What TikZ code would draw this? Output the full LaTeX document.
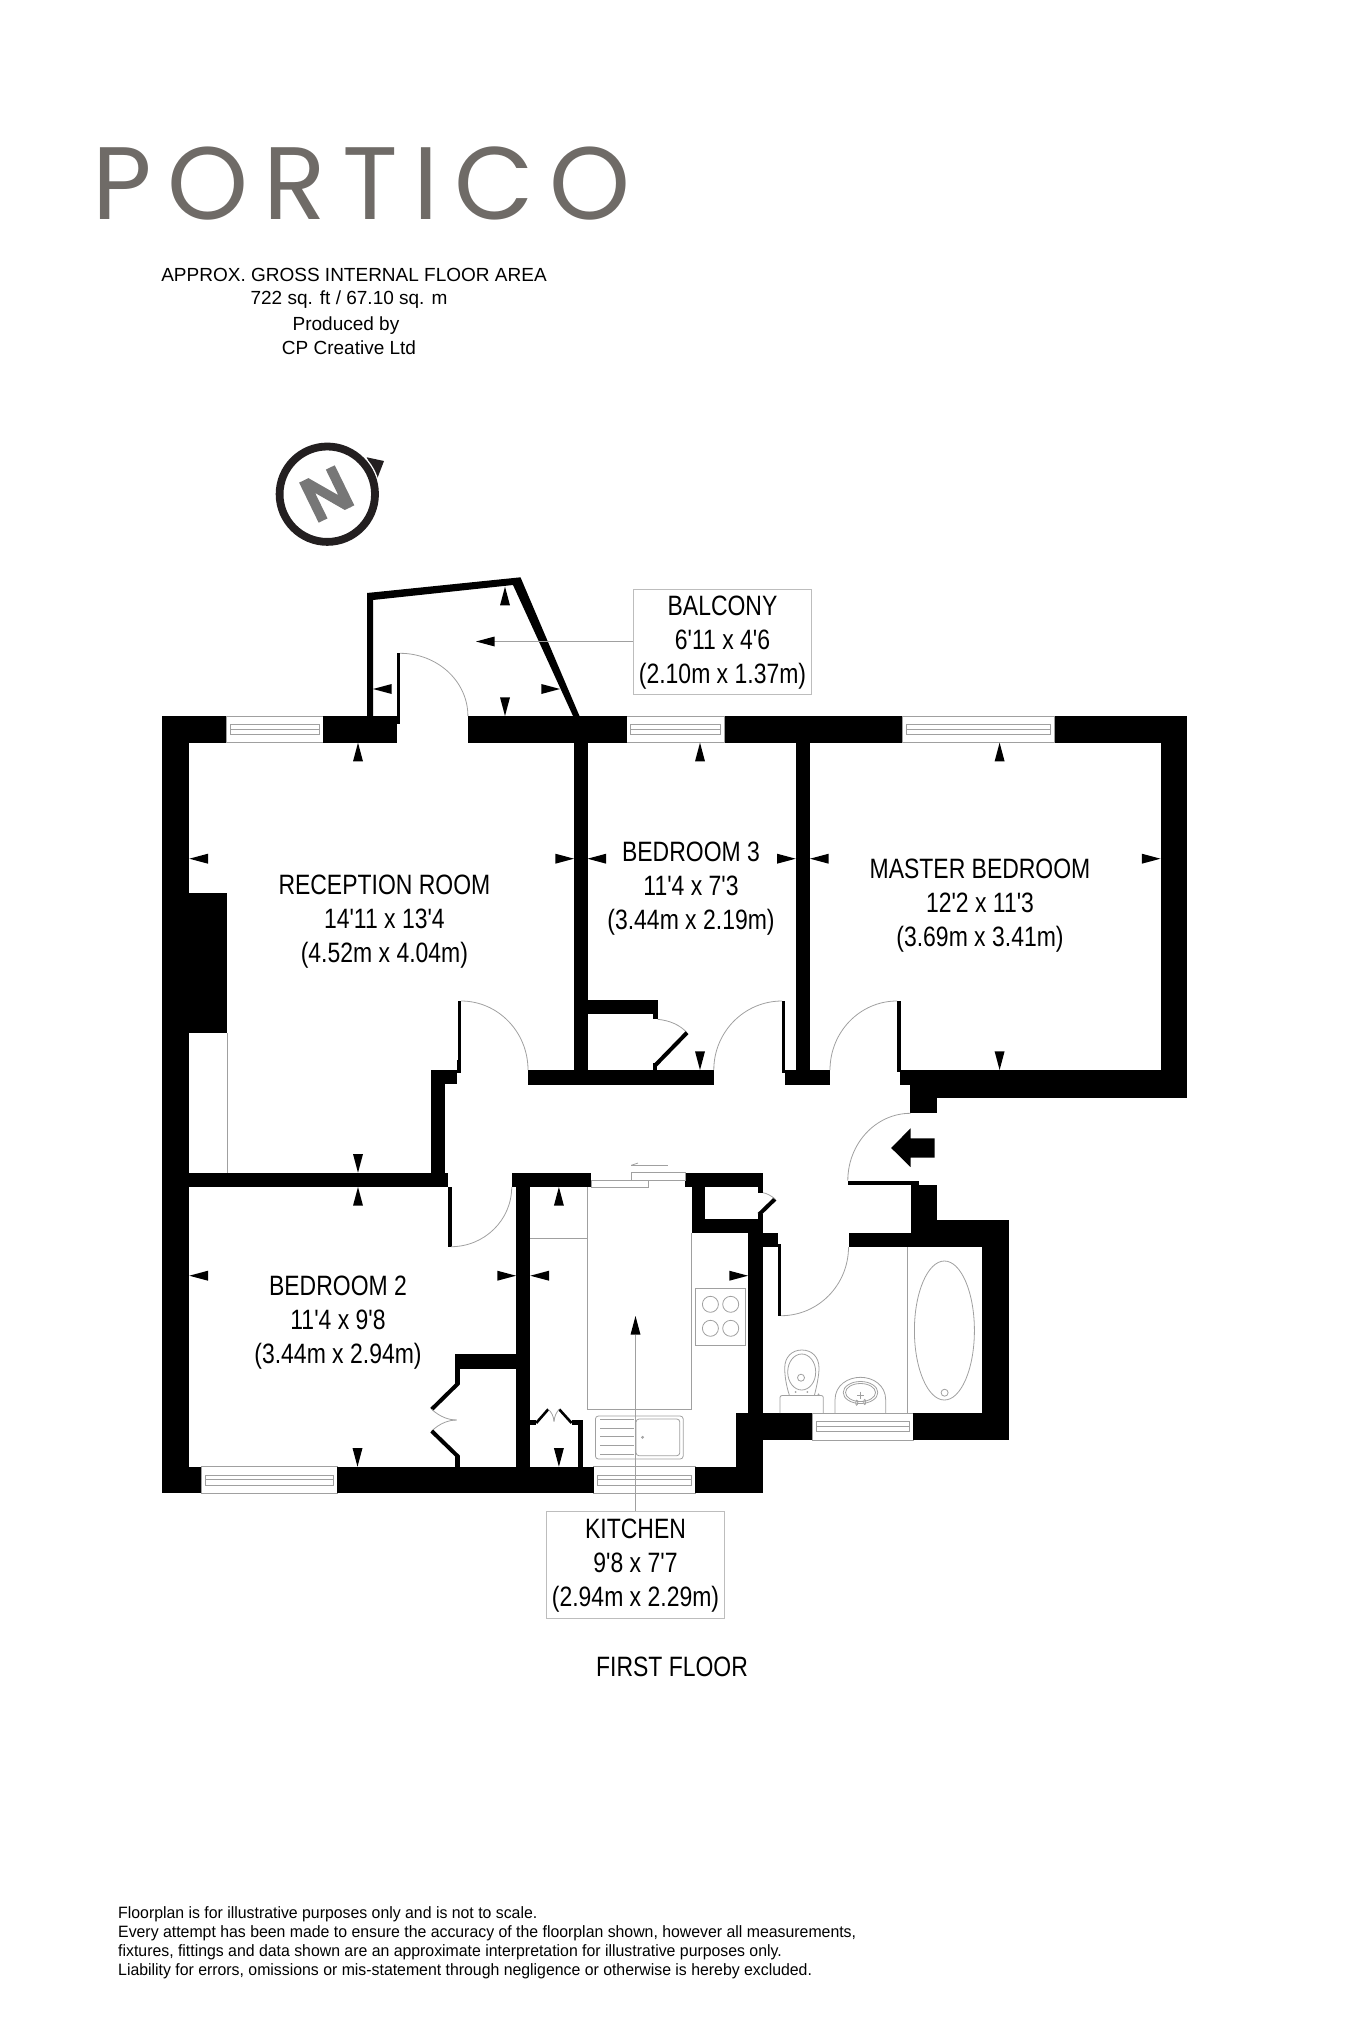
\documentclass[tikz,border=0pt]{standalone}
\usepackage{fontspec}
\usetikzlibrary{calc}
\setmainfont{Liberation Sans}
\newfontfamily\narrowf[FakeStretch=0.82]{Liberation Sans}
\newfontfamily\footf[FakeStretch=0.966]{Liberation Sans}
\newfontfamily\titlef[LetterSpace=15.1]{Poppins}
\newfontfamily\northf[FakeBold=8,FakeStretch=1.08]{Liberation Sans}
\definecolor{gry}{HTML}{A0A0A0}
\definecolor{logo}{HTML}{6F6B67}
\definecolor{ring}{HTML}{231F20}
\definecolor{nort}{HTML}{777777}
\newcommand\arU[2]{\fill (#1,#2) -- ++(5,18.7) -- ++(-10,0) -- cycle;}
\newcommand\arD[2]{\fill (#1,#2) -- ++(5,-18.7) -- ++(-10,0) -- cycle;}
\newcommand\arL[2]{\fill (#1,#2) -- ++(18.7,5) -- ++(0,-10) -- cycle;}
\newcommand\arR[2]{\fill (#1,#2) -- ++(-18.7,5) -- ++(0,-10) -- cycle;}
\newcommand\wl[4]{\fill (#1,#2) rectangle (#3,#4);}
\newcommand\doorarc[6]{\draw[thinl] (#1,#2) .. controls ($(#1,#2)+.5523*(#3,#4)-.5523*(#5,#6)$) and ($(#3,#4)+.5523*(#1,#2)-.5523*(#5,#6)$) .. (#3,#4);}
% window: x0, x1, y top
\newcommand\windowh[3]{%
  \draw[thinl] (#1,#3) rectangle (#2,#3+26.7);
  \draw[thinl] (#1+4,#3+8.3) rectangle (#2-4,#3+18.3);
  \draw[thinl] (#1+4,#3+13) -- (#2-4,#3+13);}
\tikzset{
  thinl/.style={draw=gry,line width=0.8pt},
  roomlabel/.style={font=\narrowf\fontsize{28}{34.2}\selectfont,align=center,inner sep=0pt},
  headtext/.style={font=\fontsize{19}{23}\selectfont,inner sep=0pt},
  foottext/.style={font=\footf\fontsize{16.4}{19}\selectfont,inner sep=0pt,anchor=west},
  leaf/.style={line width=4pt,line cap=butt,black}
}
\begin{document}
\begin{tikzpicture}[x=1pt,y=-1pt]
\useasboundingbox (0,0) rectangle (1350,2025);
% Logo and header
\node[inner sep=0pt,anchor=west,text=logo,font=\titlef\fontsize{103}{106}\selectfont] (logo) at (92,184) {PORTICO};
\node[headtext] (h1) at (354,275) {APPROX. GROSS INTERNAL FLOOR AREA};
\node[headtext] (h2) at (349,300) {722 sq. ft / 67.10 sq. m};
\node[headtext] (h3) at (346,326) {Produced by};
\node[headtext] (h4) at (349,348) {CP Creative Ltd};
% Compass
\fill[ring] (366.7,457.3) -- (384,461) -- (376.7,480) -- cycle;
\draw[white,line width=1.6pt] (327.3,494.2) circle [radius=52.2];
\draw[ring,line width=7.8pt] (327.3,494.2) circle [radius=47.7];
\node[text=nort,font=\northf\fontsize{58}{58}\selectfont,rotate=26,inner sep=0pt] (north) at (326.7,494) {\special{pdf:code q 0.467 0.467 0.467 RG}N\special{pdf:code Q}};
% Windows
\windowh{226}{323.2}{716}
\windowh{626.8}{724.5}{716}
\windowh{902.4}{1054.5}{716}
\windowh{201.3}{337.3}{1466.7}
\windowh{593.7}{695}{1466.7}
\windowh{812}{913.2}{1413.3}
% Outer walls
\wl{162.3}{716}{226}{742.7}
\wl{323.2}{716}{397}{742.7}
\wl{397}{716}{400}{724}
\wl{467.9}{716}{626.8}{742.7}
\wl{724.5}{716}{902.4}{742.7}
\wl{1054.5}{716}{1187}{742.7}
\wl{162.3}{716}{189.3}{1493.3}
\wl{162.3}{1466.7}{201.3}{1493.3}
\wl{1160.5}{716}{1187}{1097.6}
\wl{337.3}{1466.7}{593.7}{1493.3}
\wl{695}{1466.7}{763}{1493.3}
% chimney
\wl{189.3}{892.7}{227}{1033.3}
\draw[thinl] (227,1033.3) -- (227,1172.7);
% Balcony
\fill (367,716) -- (367,593) -- (520.5,577.3) -- (579.5,716) -- (573,716) -- (513,585) -- (373,600) -- (373,716) -- cycle;
\wl{397}{653.3}{400}{724}
\doorarc{400}{653.3}{467.9}{716}{400}{716}
% Partitions
\wl{574}{742}{587.5}{1070}
\wl{795.7}{742}{810}{1085}
\wl{785}{1070}{830}{1085}
\wl{528}{1070}{713.8}{1085}
\wl{900.4}{1070}{1187}{1085}
\wl{910.3}{1085}{1187}{1097.6}
\wl{910.3}{1097}{937.3}{1113.3}
% Reception wall and hall
\wl{430.7}{1070}{456.7}{1084}
\wl{456.7}{1060}{460.7}{1072.7}
\wl{430.7}{1084}{445}{1173}
\wl{189.3}{1172.7}{448}{1187}
\wl{458}{1001}{461}{1072}
\doorarc{461}{1001}{528}{1070}{461}{1070}
% B3 closet
\wl{587.5}{1000}{657.6}{1014}
\wl{653}{1014}{657.6}{1019.3}
\draw[thinl] (657.6,1019.3) .. controls (670,1020.5) and (680,1025) .. (687,1032.7);
\draw[leaf] (687,1032.7) -- (655.5,1065);
\wl{653}{1063}{657}{1070}
% B3 door
\wl{781.8}{1001}{785}{1072.7}
\doorarc{782}{1001}{713.8}{1070}{782}{1070}
% Master door
\wl{897}{1001}{901}{1072}
\doorarc{897}{1001}{830}{1070}{897}{1070}
% Bedroom 2 door
\wl{448}{1187}{451.7}{1246.7}
\doorarc{451}{1246.7}{511.7}{1187}{451}{1187}
% Kitchen walls
\wl{511.5}{1172.7}{591.3}{1187}
\wl{516}{1187}{530.3}{1467}
\wl{685}{1172.7}{762.7}{1187}
\wl{691.5}{1187}{705.2}{1232.7}
\wl{691.5}{1218.7}{763}{1232.7}
\wl{757.6}{1187}{763}{1192.7}
\wl{757.6}{1214}{763}{1219}
\draw[leaf] (759,1214.5) -- (775,1199);
\draw[thinl] (763,1192.7) .. controls (767,1193.5) and (771,1195.5) .. (775,1199);
\wl{748}{1232.7}{763}{1413.3}
\wl{736.2}{1413.3}{763}{1467}
% Bedroom 2 cupboard
\wl{455.3}{1354.3}{516}{1368.7}
\wl{455.3}{1368.7}{459.7}{1384}
\draw[leaf] (458.5,1383) -- (431.7,1409.3);
\draw[thinl] (431.7,1409.3) .. controls (440,1417) and (449,1420) .. (456.7,1420);
\draw[thinl] (456.7,1420) .. controls (449,1420) and (440,1423) .. (431.7,1431);
\draw[leaf] (431.7,1431) -- (458.5,1457);
\wl{455.3}{1456}{459.7}{1467}
% Kitchen cupboard
\wl{577.8}{1420}{582.6}{1467}
\wl{571.6}{1420}{582.6}{1424.7}
\wl{530.3}{1420}{536.2}{1425}
\draw[black,line width=2.6pt] (536.2,1423) -- (548.2,1409.3);
\draw[black,line width=2.6pt] (559.2,1409.3) -- (571.6,1423);
\draw[thinl] (548.2,1409.3) .. controls (551.5,1412) and (553.5,1416) .. (554,1421.5);
\draw[thinl] (559.2,1409.3) .. controls (556.5,1412) and (554.5,1416) .. (554,1421.5);
% Bathroom walls
\wl{763}{1232.7}{777.5}{1247}
\wl{777.5}{1244}{781}{1315.7}
\doorarc{781}{1315.7}{848.5}{1247}{781}{1247}
\wl{848.5}{1232.7}{982}{1247}
\wl{910.5}{1184.7}{937.3}{1232.7}
\wl{910.5}{1180.7}{919.4}{1185}
\wl{937.3}{1220.3}{1008.6}{1232.7}
\wl{982}{1220.3}{1008.6}{1440}
\wl{763}{1413.3}{812}{1440}
\wl{913.2}{1413.3}{1008.6}{1440}
% Entrance door
\wl{847.8}{1180.7}{919.4}{1184.7}
\doorarc{910.5}{1113.3}{847.8}{1180.7}{910.5}{1180.7}
\fill (891.2,1148) -- (910.5,1128.3) -- (910.5,1138.3) -- (934.6,1138.3) -- (934.6,1157.7) -- (910.5,1157.7) -- (910.5,1167) -- cycle;
% Bathroom fittings
\draw[thinl] (907.7,1247) -- (907.7,1413.3);
\draw[thinl] (944.4,1330.5) ellipse [x radius=30,y radius=69.5];
\draw[thinl] (944.6,1392.7) circle [radius=3.5];
\draw[thinl,rounded corners=2pt] (780,1413) -- (780,1395.5) -- (823.3,1395.5) -- (823.3,1413);
\draw[thinl] (789.3,1395) .. controls (786,1385) and (784.7,1375) .. (784.7,1368) .. controls (784.7,1357) and (792,1350) .. (801.8,1350) .. controls (812,1350) and (819,1357) .. (819,1368) .. controls (819,1375) and (817,1385) .. (814.5,1395);
\draw[thinl] (801.7,1372) ellipse [x radius=14,y radius=18];
\draw[thinl] (801,1377.7) circle [radius=3.5];
\fill[gry] (795.7,1392) circle [radius=1] (807.3,1392) circle [radius=1] (818.5,1394.3) circle [radius=1];
\draw[thinl] (835,1413) -- (835,1400) .. controls (835,1385) and (848,1377.3) .. (860.5,1377.3) .. controls (873,1377.3) and (885.7,1385) .. (885.7,1400) -- (885.7,1413);
\draw[thinl] (860.5,1392.5) ellipse [x radius=17.3,y radius=11];
\draw[thinl] (860.5,1392.5) ellipse [x radius=15,y radius=9];
\draw[thinl] (857.2,1395) -- (864.2,1395) (860.7,1391.5) -- (860.7,1398.5);
\draw[thinl] (856.7,1402.7) ellipse [x radius=1,y radius=2.5];
\draw[thinl] (864.7,1402) ellipse [x radius=1,y radius=2.5];
% Kitchen fittings
\draw[thinl] (587.5,1187) -- (587.5,1409.3) -- (691.5,1409.3) -- (691.5,1232.7);
\draw[thinl] (530.3,1238.3) -- (587.5,1238.3);
\draw[thinl] (591.3,1180) rectangle (648.8,1187);
\draw[thinl] (631.2,1172.7) rectangle (685,1180);
\draw[thinl] (631.2,1165.3) -- (667.7,1165.3);
\draw[thinl] (631.2,1165.3) -- (638,1163);
\draw[thinl] (695.2,1288.3) rectangle (745.5,1345);
\foreach \cx/\cy in {710.4/1304.3,730.7/1304.3,710.4/1328.3,730.7/1328.3}
  \draw[thinl] (\cx,\cy) circle [radius=8];
\draw[thinl,rounded corners=3pt] (595.4,1416) rectangle (683.2,1459);
\draw[thinl,rounded corners=3pt] (636,1419) rectangle (679.8,1455.7);
\foreach \ly in {1419.3,1428.3,1436.7,1445.7,1454}
  \draw[thinl] (600,\ly) -- (633.6,\ly);
\draw[thinl] (642.6,1437.3) circle [radius=1];
% Room labels
\node[roomlabel] (reception) at (384.4,921.5) {RECEPTION ROOM\\14'11 x 13'4\\(4.52m x 4.04m)};
\node[roomlabel] (bed3) at (691,888.5) {BEDROOM 3\\11'4 x 7'3\\(3.44m x 2.19m)};
\node[roomlabel] (master) at (980,905.5) {MASTER BEDROOM\\12'2 x 11'3\\(3.69m x 3.41m)};
\node[roomlabel] (bed2) at (338,1322.5) {BEDROOM 2\\11'4 x 9'8\\(3.44m x 2.94m)};
\node[draw=gry!70,line width=1pt,inner sep=0pt,minimum width=178.7pt,minimum height=105pt] (balcony) at (722.5,641.5) {};
\node[draw=gry!70,line width=1pt,inner sep=0pt,minimum width=178.1pt,minimum height=106.6pt] (kitchen) at (635.5,1564.7) {};
\node[roomlabel] (balconytext) at (722.5,642.5) {BALCONY\\6'11 x 4'6\\(2.10m x 1.37m)};
\node[roomlabel] (kitchentext) at (635.5,1565.5) {KITCHEN\\9'8 x 7'7\\(2.94m x 2.29m)};
\node[roomlabel] (floor) at (672,1667) {FIRST FLOOR};
% Leaders
\coordinate (baltip) at (494,641.5);
\coordinate (kittip) at (635.5,1335);
\draw[thinl] (balcony.west) -- (baltip);
\draw[thinl] (kitchen.north) -- (kittip);
\arL{476}{641.5}
\arU{635.5}{1316}
% Dimension arrows
\arU{358}{742.7} \arL{189.3}{858.7} \arR{574}{858.7} \arD{358}{1172.7}
\arU{358}{1187} \arL{189.3}{1275.7} \arR{516}{1275.7} \arD{357.5}{1466.7}
\arL{587.5}{858.7} \arR{795.7}{858.7} \arU{700}{742.7} \arD{700}{1070}
\arL{810}{858.7} \arR{1160.5}{858.7} \arU{999.6}{742.7} \arD{999.6}{1070}
\arU{505}{586.7} \arR{560}{689} \arL{373}{689} \arD{505}{716}
\arU{558.9}{1187} \arL{530.3}{1275.7} \arR{748}{1275.7} \arD{558.9}{1466.7}
% Footer
\node[foottext] (f1) at (118,1914.5) {Floorplan is for illustrative purposes only and is not to scale.};
\node[foottext] (f2) at (118,1933.5) {Every attempt has been made to ensure the accuracy of the floorplan shown, however all measurements,};
\node[foottext] (f3) at (118,1952.4) {fixtures, fittings and data shown are an approximate interpretation for illustrative purposes only.};
\node[foottext] (f4) at (118,1971.4) {Liability for errors, omissions or mis-statement through negligence or otherwise is hereby excluded.};
\end{tikzpicture}
\end{document}
